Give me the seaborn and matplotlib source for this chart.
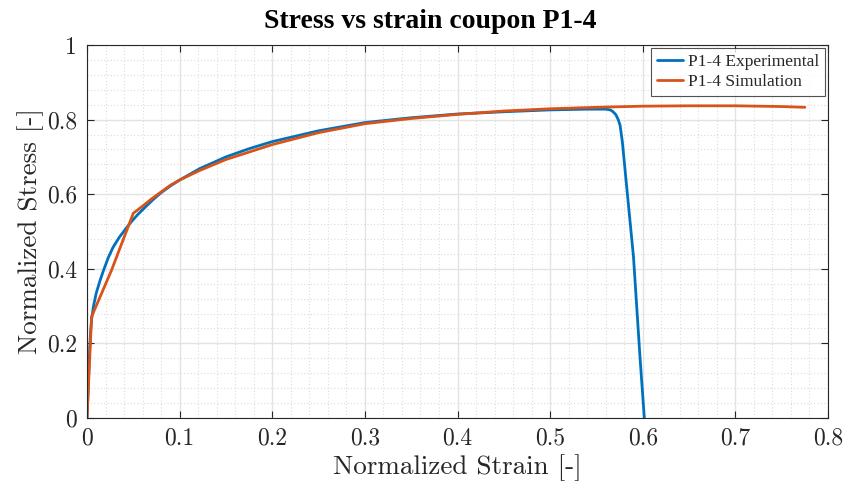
import numpy as np
import pandas as pd
import matplotlib
matplotlib.use("Agg")
import matplotlib.pyplot as plt
import seaborn as sns
from matplotlib.ticker import MultipleLocator, FuncFormatter

# Experimental data
exp_strain = [0, 0.001, 0.002, 0.003, 0.004, 0.005, 0.007, 0.010, 0.014, 0.018, 0.023,
              0.028, 0.035, 0.0464, 0.055, 0.0644, 0.072, 0.08, 0.09, 0.1, 0.122, 0.15, 0.175,
              0.2, 0.25, 0.3, 0.35, 0.4, 0.45, 0.5, 0.54, 0.56, 0.565, 0.568, 0.571,
              0.5735, 0.5755, 0.578, 0.583, 0.59, 0.597, 0.6017]
exp_stress = [0, 0.06, 0.13, 0.19, 0.235, 0.265, 0.30, 0.335, 0.368, 0.397, 0.43,
              0.457, 0.485, 0.522, 0.546, 0.569, 0.587, 0.604, 0.622, 0.638, 0.669, 0.700, 0.722,
              0.741, 0.770, 0.792, 0.805, 0.815, 0.821, 0.826, 0.828, 0.828, 0.826, 0.821, 0.813,
              0.800, 0.785, 0.740, 0.611, 0.432, 0.164, 0.0]

# Simulation data
sim_strain = [0, 0.002, 0.004, 0.005, 0.0266, 0.05, 0.06, 0.07, 0.08, 0.09, 0.1, 0.122,
              0.15, 0.2, 0.25, 0.3, 0.35, 0.4, 0.45, 0.5, 0.55, 0.6, 0.65, 0.7, 0.75, 0.775]
sim_stress = [0, 0.11, 0.22, 0.272, 0.397, 0.549, 0.568, 0.588, 0.606, 0.624, 0.638, 0.664,
              0.693, 0.733, 0.765, 0.789, 0.803, 0.814, 0.823, 0.829, 0.833, 0.836, 0.837,
              0.837, 0.835, 0.833]

labels = ["P1-4 Experimental", "P1-4 Simulation"]
colors = ["#0072BD", "#D95319"]

df = pd.concat([
    pd.DataFrame({"strain": exp_strain, "stress": exp_stress, "series": labels[0]}),
    pd.DataFrame({"strain": sim_strain, "stress": sim_stress, "series": labels[1]}),
], ignore_index=True)

sns.set_theme(style="white")
plt.rcParams["axes.unicode_minus"] = False

fig = plt.figure(figsize=(8.45, 4.93), dpi=100)
ax = fig.add_axes([87/845, 75/493, (828-87)/845, (418-45)/493])

sns.lineplot(data=df, x="strain", y="stress", hue="series", palette=colors,
             sort=False, estimator=None, linewidth=2.0, ax=ax)

ax.set_xlim(0, 0.8)
ax.set_ylim(0, 1)
ax.xaxis.set_major_locator(MultipleLocator(0.1))
ax.xaxis.set_minor_locator(MultipleLocator(0.02))
ax.yaxis.set_major_locator(MultipleLocator(0.2))
ax.yaxis.set_minor_locator(MultipleLocator(0.04))
fmt = FuncFormatter(lambda v, p: f"{v:g}")
ax.xaxis.set_major_formatter(fmt)
ax.yaxis.set_major_formatter(fmt)

ax.grid(True, which="major", color="#e3e3e3", linewidth=1.0, linestyle="-")
ax.grid(True, which="minor", color="#dcdcdc", linewidth=0.8, linestyle=(0, (1, 2)))
ax.set_axisbelow(True)

for s in ax.spines.values():
    s.set_visible(True)
    s.set_color("#262626")
    s.set_linewidth(0.8)

ax.tick_params(which="major", direction="in", length=5, width=0.8, color="#262626",
               top=True, right=True, bottom=True, left=True, labelsize=17,
               labelcolor="#262626", pad=7)
ax.tick_params(which="minor", length=0)
for lab in ax.get_xticklabels() + ax.get_yticklabels():
    lab.set_fontfamily("cmr10")

ax.set_xlabel("Normalized Strain [-]", fontfamily="cmr10", fontsize=19.5, color="#262626", labelpad=3)
ax.set_ylabel("Normalized Stress [-]", fontfamily="cmr10", fontsize=19.5, color="#262626", labelpad=2)
fig.text(430/845, 1 - 22/493, "Stress vs strain coupon P1-4", fontfamily="Liberation Serif",
         fontweight="bold", fontsize=20, color="black", ha="center", va="center")

leg = ax.legend(loc="upper right", prop={"family": "Liberation Serif", "size": 12.5},
                frameon=True, fancybox=False, handlelength=1.5, handletextpad=0.3,
                borderpad=0.35, labelspacing=0.25, borderaxespad=0.15)
leg.get_frame().set_edgecolor("#262626")
leg.get_frame().set_linewidth(0.8)
for line in leg.get_lines():
    line.set_linewidth(2.0)

fig.savefig("out.png", dpi=100)
